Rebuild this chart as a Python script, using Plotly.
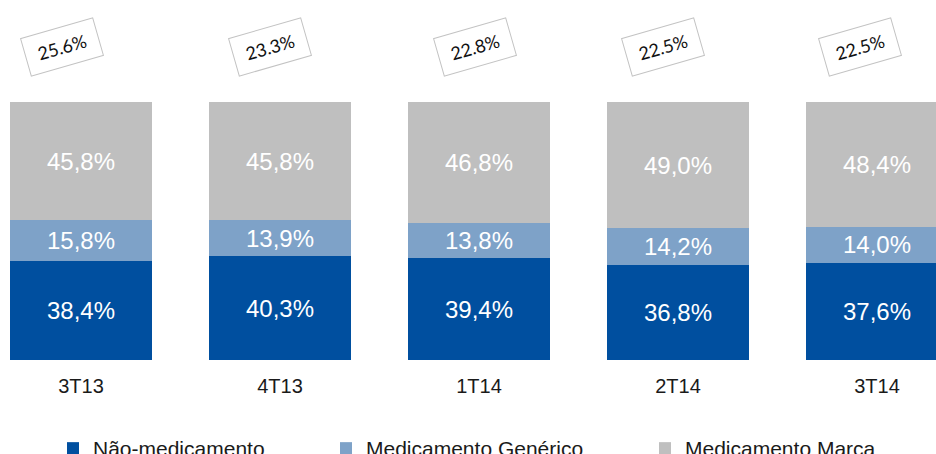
import plotly.graph_objects as go

categories = ["3T13", "4T13", "1T14", "2T14", "3T14"]
nao_medicamento = [38.4, 40.3, 39.4, 36.8, 37.6]
med_generico = [15.8, 13.9, 13.8, 14.2, 14.0]
med_marca = [45.8, 45.8, 46.8, 49.0, 48.4]
box_values = ["25.6%", "23.3%", "22.8%", "22.5%", "22.5%"]

series = [
    ("Não-medicamento", nao_medicamento, "rgb(0,79,159)", "legend"),
    ("Medicamento Genérico", med_generico, "rgb(126,162,200)", "legend2"),
    ("Medicamento Marca", med_marca, "rgb(191,191,191)", "legend3"),
]

W, H = 936, 454
TOP, BOT = 102, 360          # plot area (100% and 0%) in figure pixels
PH = BOT - TOP
fig = go.Figure()
for name, vals, color, lg in series:
    fig.add_trace(go.Bar(
        x=categories, y=vals, name=name,
        marker=dict(color=color, line=dict(width=0)),
        text=[f"{v:.1f}%".replace(".", ",") for v in vals],
        textposition="inside", insidetextanchor="middle", textangle=0,
        textfont=dict(color="white", size=24, family="Liberation Sans, Arial"),
        legend=lg, hoverinfo="skip",
    ))

box_dx = [-19, -10, -4, -15, -17]
for i, (c, t) in enumerate(zip(categories, box_values)):
    fig.add_annotation(
        x=c, xref="x", y=(BOT - 47) / PH, yref="paper",
        xshift=box_dx[i], yanchor="middle", xanchor="center",
        text=t, showarrow=False, textangle=-16,
        font=dict(family="Lato, Carlito, sans-serif", size=18, color="#111111"),
        bordercolor="rgb(195,195,195)", borderwidth=1, bgcolor="white",
        width=70, height=34, borderpad=2, align="center", valign="middle",
    )

legend_text_x = [93, 366, 685]
leg_font = dict(family="Liberation Sans, Arial", size=21, color="#1a1a1a")
for key, tx in zip(["legend", "legend2", "legend3"], legend_text_x):
    fig.update_layout(**{key: dict(
        x=(tx - 40) / W, xanchor="left",
        y=(BOT - 428) / PH, yanchor="top",
        orientation="h", font=leg_font, bgcolor="rgba(0,0,0,0)",
        borderwidth=0, itemclick=False,
    )})

fig.update_layout(
    width=W, height=H, barmode="stack", bargap=0.286,
    margin=dict(l=0, r=0, t=TOP, b=H - BOT, autoexpand=False),
    paper_bgcolor="white", plot_bgcolor="white",
    showlegend=True,
    xaxis=dict(type="category", range=[-81 / 199, -81 / 199 + W / 199],
               showgrid=False, zeroline=False, showline=False, ticks="",
               ticklabelstandoff=12,
               tickfont=dict(family="Liberation Sans, Arial", size=20, color="#1a1a1a")),
    yaxis=dict(range=[0, 100], visible=False, showgrid=False, zeroline=False),
)

fig.write_html(
    "out.html",
    config={"displayModeBar": False},
    post_script="document.body.style.margin='0';document.body.style.overflow='hidden';",
)
